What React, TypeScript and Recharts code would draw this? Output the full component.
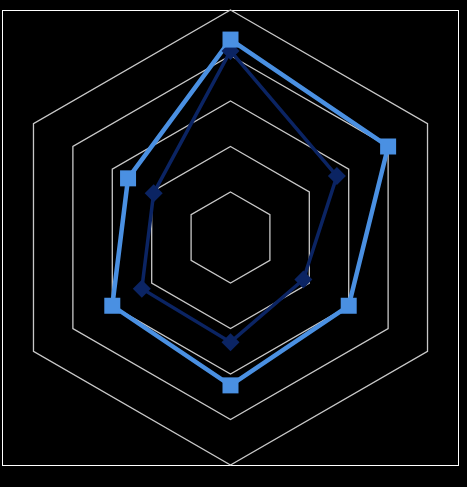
import { RadarChart, Radar, PolarGrid, PolarAngleAxis, PolarRadiusAxis } from "recharts";

const axes = ["A", "B", "C", "D", "E", "F"];
const lightValues = [87, 80, 60, 65, 60, 52];
const darkValues = [82, 54, 37, 46, 45, 39];

const data = axes.map((axis, i) => ({
  axis,
  light: lightValues[i],
  dark: darkValues[i],
}));

const LIGHT = "#4A90E2";
const DARK = "#0B2463";

const SquareDot = (props: any) => {
  const { cx, cy } = props;
  return <rect x={cx - 8} y={cy - 8} width={16} height={16} fill={LIGHT} />;
};

const DiamondDot = (props: any) => {
  const { cx, cy } = props;
  const r = 9;
  return (
    <polygon
      points={`${cx},${cy - r} ${cx + r},${cy} ${cx},${cy + r} ${cx - r},${cy}`}
      fill={DARK}
    />
  );
};

export default function App() {
  return (
    <div
      style={{
        position: "fixed",
        left: 0,
        top: 0,
        width: 467,
        height: 487,
        background: "#000",
      }}
    >
      <div
        style={{
          position: "absolute",
          left: 2,
          top: 10,
          width: 455,
          height: 454,
          border: "1.5px solid #fff",
        }}
      />
      <RadarChart
        width={467}
        height={487}
        data={data}
        cx={230.5}
        cy={237.5}
        outerRadius={227.5}
        style={{ position: "absolute", left: 0, top: 0 }}
      >
        <PolarGrid gridType="polygon" radialLines={false} stroke="#c8c8c8" strokeWidth={1.3} />
        <PolarAngleAxis dataKey="axis" tick={false} axisLine={false} />
        <PolarRadiusAxis domain={[0, 100]} tickCount={6} tick={false} axisLine={false} />
        <Radar
          dataKey="dark"
          stroke={DARK}
          strokeWidth={3.5}
          fill="none"
          fillOpacity={0}
          dot={<DiamondDot />}
          isAnimationActive={false}
        />
        <Radar
          dataKey="light"
          stroke={LIGHT}
          strokeWidth={4.5}
          fill="none"
          fillOpacity={0}
          dot={<SquareDot />}
          isAnimationActive={false}
        />
      </RadarChart>
    </div>
  );
}
